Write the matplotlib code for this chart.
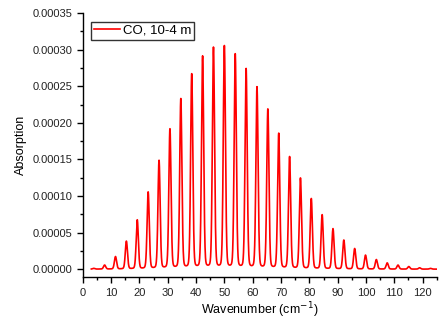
import numpy as np
import matplotlib
matplotlib.use("Agg")
import matplotlib.pyplot as plt
from matplotlib.ticker import MultipleLocator, FormatStrFormatter

plt.rcParams['font.family'] = ['Liberation Sans', 'DejaVu Sans']

# rotational line centres (cm-1) and peak absorption
line_pos = [3.85, 7.69, 11.53, 15.38, 19.22, 23.07, 26.91, 30.76, 34.60, 38.45,
            42.29, 46.13, 49.98, 53.82, 57.66, 61.50, 65.34, 69.17, 73.01, 76.85,
            80.68, 84.51, 88.34, 92.17, 96.00, 99.83, 103.65, 107.48, 111.30,
            115.12, 118.94, 122.76]
line_peak = [0.1, 0.55, 1.7, 3.8, 6.7, 10.5, 14.8, 19.1, 23.2, 26.6,
             29.0, 30.2, 30.4, 29.3, 27.3, 24.8, 21.8, 18.5, 15.3, 12.4,
             9.6, 7.4, 5.5, 3.95, 2.8, 1.9, 1.3, 0.85, 0.55,
             0.35, 0.18, 0.1]  # x 1e-5
hwhm = 0.45
eta = 0.15  # lorentz fraction of the line shape

wn = np.linspace(3, 125, 3000)
absorb = np.zeros_like(wn)
sig = hwhm / np.sqrt(2 * np.log(2))
for c, h in zip(line_pos, line_peak):
    d = wn - c
    lor = hwhm**2 / (d**2 + hwhm**2)
    gau = np.exp(-d**2 / (2 * sig**2))
    absorb += h * 1e-5 * (eta * lor + (1 - eta) * gau)

fig = plt.figure(figsize=(4.43, 3.2), dpi=100)
ax = fig.add_axes([0.187, 0.134, 0.799, 0.825])
ax.plot(wn, absorb, color='#ff0000', lw=1.2, label='CO, 10-4 m')

ax.set_xlim(0, 125)
ax.set_ylim(-0.0000109, 0.00035)
ax.xaxis.set_major_locator(MultipleLocator(10))
ax.xaxis.set_minor_locator(MultipleLocator(5))
ax.yaxis.set_major_locator(MultipleLocator(0.00005))
ax.yaxis.set_minor_locator(MultipleLocator(0.000025))
ax.yaxis.set_major_formatter(FormatStrFormatter('%.5f'))
ax.spines['top'].set_visible(False)
ax.spines['right'].set_visible(False)
for s in ('left', 'bottom'):
    ax.spines[s].set_linewidth(1.0)
ax.tick_params(which='major', direction='out', length=4, width=1,
               labelsize=8, colors='black', labelcolor='#222222')
ax.tick_params(which='minor', direction='out', length=2.5, width=1)

ax.set_xlabel('Wavenumber (cm$^{-1}$)', fontsize=9, labelpad=2)
ax.set_ylabel('Absorption', fontsize=9)

leg = ax.legend(loc='upper left', bbox_to_anchor=(0.023, 0.966), fontsize=9.5,
                frameon=True, fancybox=False, handlelength=2.0,
                borderpad=0.2, handletextpad=0.25, borderaxespad=0)
leg.get_frame().set_edgecolor('black')
leg.get_frame().set_linewidth(1.0)

fig.savefig('out.png', dpi=100)
